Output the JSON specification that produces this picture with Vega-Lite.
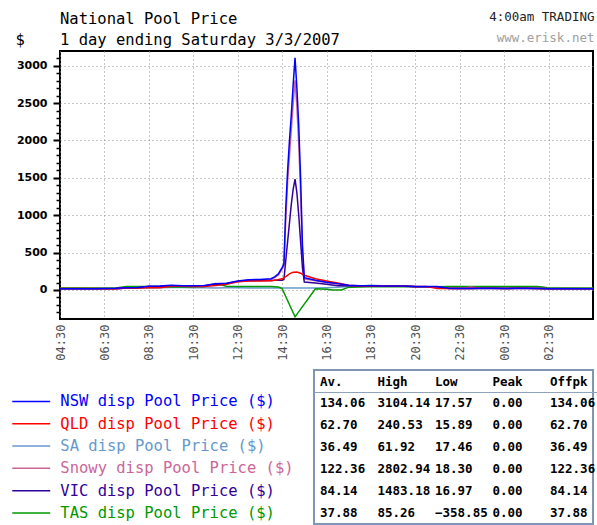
{
"$schema": "https://vega.github.io/schema/vega-lite/v6.json",
"background": "white",
"padding": {"left": 14, "top": 10, "right": 0, "bottom": 0},
"title": {"text": "4:00am TRADING", "subtitle": "www.erisk.net", "anchor": "end", "frame": "bounds", "offset": -34, "dx": -8, "font": "DejaVu Sans Mono", "fontSize": 12.5, "fontWeight": "normal", "color": "#222222", "subtitleFont": "DejaVu Sans Mono", "subtitleFontSize": 12.5, "subtitleColor": "#a0a0a0", "subtitlePadding": 8.5},
"datasets": {
"prices": [
{"t":"2007-03-02T04:30","r":"SA","p":20},{"t":"2007-03-02T05:00","r":"SA","p":20},{"t":"2007-03-02T05:30","r":"SA","p":19},{"t":"2007-03-02T06:00","r":"SA","p":18},{"t":"2007-03-02T06:30","r":"SA","p":17.46},{"t":"2007-03-02T07:00","r":"SA","p":18},{"t":"2007-03-02T07:30","r":"SA","p":22},{"t":"2007-03-02T08:00","r":"SA","p":25},{"t":"2007-03-02T08:30","r":"SA","p":28},{"t":"2007-03-02T09:00","r":"SA","p":30},{"t":"2007-03-02T09:30","r":"SA","p":32},{"t":"2007-03-02T10:00","r":"SA","p":32},{"t":"2007-03-02T10:30","r":"SA","p":30},{"t":"2007-03-02T11:00","r":"SA","p":30},{"t":"2007-03-02T11:30","r":"SA","p":28},{"t":"2007-03-02T12:00","r":"SA","p":30},{"t":"2007-03-02T12:30","r":"SA","p":30},{"t":"2007-03-02T13:00","r":"SA","p":28},{"t":"2007-03-02T13:30","r":"SA","p":28},{"t":"2007-03-02T14:00","r":"SA","p":28},{"t":"2007-03-02T14:30","r":"SA","p":28},{"t":"2007-03-02T15:00","r":"SA","p":28},{"t":"2007-03-02T15:30","r":"SA","p":28},{"t":"2007-03-02T16:00","r":"SA","p":28},{"t":"2007-03-02T16:30","r":"SA","p":30},{"t":"2007-03-02T17:00","r":"SA","p":35},{"t":"2007-03-02T17:30","r":"SA","p":45},{"t":"2007-03-02T18:00","r":"SA","p":55},{"t":"2007-03-02T18:30","r":"SA","p":61.92},{"t":"2007-03-02T19:00","r":"SA","p":58},{"t":"2007-03-02T19:30","r":"SA","p":55},{"t":"2007-03-02T20:00","r":"SA","p":52},{"t":"2007-03-02T20:30","r":"SA","p":45},{"t":"2007-03-02T21:00","r":"SA","p":44},{"t":"2007-03-02T21:30","r":"SA","p":42},{"t":"2007-03-02T22:00","r":"SA","p":40},{"t":"2007-03-02T22:30","r":"SA","p":38},{"t":"2007-03-02T23:00","r":"SA","p":35},{"t":"2007-03-02T23:30","r":"SA","p":35},{"t":"2007-03-03T00:00","r":"SA","p":35},{"t":"2007-03-03T00:30","r":"SA","p":36},{"t":"2007-03-03T01:00","r":"SA","p":38},{"t":"2007-03-03T01:30","r":"SA","p":40},{"t":"2007-03-03T02:00","r":"SA","p":40},{"t":"2007-03-03T02:30","r":"SA","p":30},{"t":"2007-03-03T03:00","r":"SA","p":25},{"t":"2007-03-03T03:30","r":"SA","p":22},{"t":"2007-03-03T04:00","r":"SA","p":20},{"t":"2007-03-03T04:30","r":"SA","p":20},
{"t":"2007-03-02T04:30","r":"TAS","p":28},{"t":"2007-03-02T05:00","r":"TAS","p":28},{"t":"2007-03-02T05:30","r":"TAS","p":28},{"t":"2007-03-02T06:00","r":"TAS","p":28},{"t":"2007-03-02T06:30","r":"TAS","p":28},{"t":"2007-03-02T07:00","r":"TAS","p":28},{"t":"2007-03-02T07:30","r":"TAS","p":45},{"t":"2007-03-02T08:00","r":"TAS","p":45},{"t":"2007-03-02T08:30","r":"TAS","p":45},{"t":"2007-03-02T09:00","r":"TAS","p":42},{"t":"2007-03-02T09:30","r":"TAS","p":40},{"t":"2007-03-02T10:00","r":"TAS","p":40},{"t":"2007-03-02T10:30","r":"TAS","p":42},{"t":"2007-03-02T11:00","r":"TAS","p":45},{"t":"2007-03-02T11:30","r":"TAS","p":85.26},{"t":"2007-03-02T12:00","r":"TAS","p":50},{"t":"2007-03-02T12:30","r":"TAS","p":45},{"t":"2007-03-02T13:00","r":"TAS","p":45},{"t":"2007-03-02T13:30","r":"TAS","p":45},{"t":"2007-03-02T14:00","r":"TAS","p":45},{"t":"2007-03-02T14:20","r":"TAS","p":40},{"t":"2007-03-02T14:30","r":"TAS","p":20},{"t":"2007-03-02T15:05","r":"TAS","p":-358.85},{"t":"2007-03-02T16:00","r":"TAS","p":15},{"t":"2007-03-02T16:30","r":"TAS","p":10},{"t":"2007-03-02T16:45","r":"TAS","p":0},{"t":"2007-03-02T17:10","r":"TAS","p":0},{"t":"2007-03-02T17:30","r":"TAS","p":38},{"t":"2007-03-02T18:00","r":"TAS","p":40},{"t":"2007-03-02T18:30","r":"TAS","p":42},{"t":"2007-03-02T19:00","r":"TAS","p":42},{"t":"2007-03-02T19:30","r":"TAS","p":42},{"t":"2007-03-02T20:00","r":"TAS","p":42},{"t":"2007-03-02T20:30","r":"TAS","p":42},{"t":"2007-03-02T21:00","r":"TAS","p":42},{"t":"2007-03-02T21:30","r":"TAS","p":42},{"t":"2007-03-02T22:00","r":"TAS","p":45},{"t":"2007-03-02T22:30","r":"TAS","p":45},{"t":"2007-03-02T23:00","r":"TAS","p":45},{"t":"2007-03-02T23:30","r":"TAS","p":45},{"t":"2007-03-03T00:00","r":"TAS","p":45},{"t":"2007-03-03T00:30","r":"TAS","p":45},{"t":"2007-03-03T01:00","r":"TAS","p":45},{"t":"2007-03-03T01:30","r":"TAS","p":45},{"t":"2007-03-03T02:00","r":"TAS","p":45},{"t":"2007-03-03T02:30","r":"TAS","p":28},{"t":"2007-03-03T03:00","r":"TAS","p":25},{"t":"2007-03-03T03:30","r":"TAS","p":25},{"t":"2007-03-03T04:00","r":"TAS","p":25},{"t":"2007-03-03T04:30","r":"TAS","p":25},
{"t":"2007-03-02T04:30","r":"Snowy","p":18},{"t":"2007-03-02T05:00","r":"Snowy","p":18},{"t":"2007-03-02T05:30","r":"Snowy","p":18},{"t":"2007-03-02T06:00","r":"Snowy","p":18},{"t":"2007-03-02T06:30","r":"Snowy","p":19},{"t":"2007-03-02T07:00","r":"Snowy","p":20},{"t":"2007-03-02T07:30","r":"Snowy","p":28},{"t":"2007-03-02T08:00","r":"Snowy","p":30},{"t":"2007-03-02T08:30","r":"Snowy","p":47},{"t":"2007-03-02T09:00","r":"Snowy","p":50},{"t":"2007-03-02T09:30","r":"Snowy","p":58},{"t":"2007-03-02T10:00","r":"Snowy","p":55},{"t":"2007-03-02T10:30","r":"Snowy","p":52},{"t":"2007-03-02T11:00","r":"Snowy","p":57},{"t":"2007-03-02T11:30","r":"Snowy","p":80},{"t":"2007-03-02T12:00","r":"Snowy","p":86},{"t":"2007-03-02T12:30","r":"Snowy","p":115},{"t":"2007-03-02T13:00","r":"Snowy","p":132},{"t":"2007-03-02T13:30","r":"Snowy","p":135},{"t":"2007-03-02T14:00","r":"Snowy","p":145},{"t":"2007-03-02T14:10","r":"Snowy","p":165},{"t":"2007-03-02T14:20","r":"Snowy","p":200},{"t":"2007-03-02T14:30","r":"Snowy","p":280},{"t":"2007-03-02T14:35","r":"Snowy","p":330},{"t":"2007-03-02T14:40","r":"Snowy","p":950},{"t":"2007-03-02T14:45","r":"Snowy","p":1450},{"t":"2007-03-02T14:50","r":"Snowy","p":1800},{"t":"2007-03-02T14:55","r":"Snowy","p":2150},{"t":"2007-03-02T15:00","r":"Snowy","p":2500},{"t":"2007-03-02T15:05","r":"Snowy","p":2802.94},{"t":"2007-03-02T15:10","r":"Snowy","p":2450},{"t":"2007-03-02T15:15","r":"Snowy","p":1950},{"t":"2007-03-02T15:20","r":"Snowy","p":1300},{"t":"2007-03-02T15:25","r":"Snowy","p":500},{"t":"2007-03-02T15:30","r":"Snowy","p":150},{"t":"2007-03-02T16:00","r":"Snowy","p":125},{"t":"2007-03-02T16:30","r":"Snowy","p":100},{"t":"2007-03-02T17:00","r":"Snowy","p":80},{"t":"2007-03-02T17:30","r":"Snowy","p":60},{"t":"2007-03-02T18:00","r":"Snowy","p":52},{"t":"2007-03-02T18:30","r":"Snowy","p":52},{"t":"2007-03-02T19:00","r":"Snowy","p":50},{"t":"2007-03-02T19:30","r":"Snowy","p":50},{"t":"2007-03-02T20:00","r":"Snowy","p":50},{"t":"2007-03-02T20:30","r":"Snowy","p":43},{"t":"2007-03-02T21:00","r":"Snowy","p":43},{"t":"2007-03-02T21:30","r":"Snowy","p":43},{"t":"2007-03-02T22:00","r":"Snowy","p":21},{"t":"2007-03-02T22:30","r":"Snowy","p":20},{"t":"2007-03-02T23:00","r":"Snowy","p":40},{"t":"2007-03-02T23:30","r":"Snowy","p":21},{"t":"2007-03-03T00:00","r":"Snowy","p":21},{"t":"2007-03-03T00:30","r":"Snowy","p":20},{"t":"2007-03-03T01:00","r":"Snowy","p":21},{"t":"2007-03-03T01:30","r":"Snowy","p":21},{"t":"2007-03-03T02:00","r":"Snowy","p":20},{"t":"2007-03-03T02:30","r":"Snowy","p":18.3},{"t":"2007-03-03T03:00","r":"Snowy","p":18.3},{"t":"2007-03-03T03:30","r":"Snowy","p":18.3},{"t":"2007-03-03T04:00","r":"Snowy","p":18.3},{"t":"2007-03-03T04:30","r":"Snowy","p":18.3},
{"t":"2007-03-02T04:30","r":"VIC","p":17},{"t":"2007-03-02T05:00","r":"VIC","p":17},{"t":"2007-03-02T05:30","r":"VIC","p":17},{"t":"2007-03-02T06:00","r":"VIC","p":17},{"t":"2007-03-02T06:30","r":"VIC","p":16.97},{"t":"2007-03-02T07:00","r":"VIC","p":18},{"t":"2007-03-02T07:30","r":"VIC","p":25},{"t":"2007-03-02T08:00","r":"VIC","p":28},{"t":"2007-03-02T08:30","r":"VIC","p":45},{"t":"2007-03-02T09:00","r":"VIC","p":48},{"t":"2007-03-02T09:30","r":"VIC","p":55},{"t":"2007-03-02T10:00","r":"VIC","p":52},{"t":"2007-03-02T10:30","r":"VIC","p":50},{"t":"2007-03-02T11:00","r":"VIC","p":55},{"t":"2007-03-02T11:30","r":"VIC","p":75},{"t":"2007-03-02T12:00","r":"VIC","p":82},{"t":"2007-03-02T12:30","r":"VIC","p":115},{"t":"2007-03-02T13:00","r":"VIC","p":125},{"t":"2007-03-02T13:30","r":"VIC","p":128},{"t":"2007-03-02T14:00","r":"VIC","p":128},{"t":"2007-03-02T14:10","r":"VIC","p":130},{"t":"2007-03-02T14:20","r":"VIC","p":130},{"t":"2007-03-02T14:30","r":"VIC","p":130},{"t":"2007-03-02T14:35","r":"VIC","p":140},{"t":"2007-03-02T14:40","r":"VIC","p":400},{"t":"2007-03-02T14:45","r":"VIC","p":650},{"t":"2007-03-02T14:50","r":"VIC","p":900},{"t":"2007-03-02T14:55","r":"VIC","p":1150},{"t":"2007-03-02T15:00","r":"VIC","p":1350},{"t":"2007-03-02T15:05","r":"VIC","p":1483.18},{"t":"2007-03-02T15:10","r":"VIC","p":1300},{"t":"2007-03-02T15:15","r":"VIC","p":1000},{"t":"2007-03-02T15:20","r":"VIC","p":650},{"t":"2007-03-02T15:25","r":"VIC","p":300},{"t":"2007-03-02T15:30","r":"VIC","p":107},{"t":"2007-03-02T16:00","r":"VIC","p":94},{"t":"2007-03-02T16:30","r":"VIC","p":76},{"t":"2007-03-02T17:00","r":"VIC","p":58},{"t":"2007-03-02T17:30","r":"VIC","p":55},{"t":"2007-03-02T18:00","r":"VIC","p":50},{"t":"2007-03-02T18:30","r":"VIC","p":50},{"t":"2007-03-02T19:00","r":"VIC","p":50},{"t":"2007-03-02T19:30","r":"VIC","p":50},{"t":"2007-03-02T20:00","r":"VIC","p":50},{"t":"2007-03-02T20:30","r":"VIC","p":43},{"t":"2007-03-02T21:00","r":"VIC","p":43},{"t":"2007-03-02T21:30","r":"VIC","p":42},{"t":"2007-03-02T22:00","r":"VIC","p":21},{"t":"2007-03-02T22:30","r":"VIC","p":20},{"t":"2007-03-02T23:00","r":"VIC","p":20},{"t":"2007-03-02T23:30","r":"VIC","p":21},{"t":"2007-03-03T00:00","r":"VIC","p":21},{"t":"2007-03-03T00:30","r":"VIC","p":20},{"t":"2007-03-03T01:00","r":"VIC","p":21},{"t":"2007-03-03T01:30","r":"VIC","p":21},{"t":"2007-03-03T02:00","r":"VIC","p":20},{"t":"2007-03-03T02:30","r":"VIC","p":17},{"t":"2007-03-03T03:00","r":"VIC","p":17},{"t":"2007-03-03T03:30","r":"VIC","p":17},{"t":"2007-03-03T04:00","r":"VIC","p":17},{"t":"2007-03-03T04:30","r":"VIC","p":17},
{"t":"2007-03-02T04:30","r":"QLD","p":20},{"t":"2007-03-02T05:00","r":"QLD","p":20},{"t":"2007-03-02T05:30","r":"QLD","p":20},{"t":"2007-03-02T06:00","r":"QLD","p":20},{"t":"2007-03-02T06:30","r":"QLD","p":16},{"t":"2007-03-02T07:00","r":"QLD","p":15.89},{"t":"2007-03-02T07:30","r":"QLD","p":25},{"t":"2007-03-02T08:00","r":"QLD","p":25},{"t":"2007-03-02T08:30","r":"QLD","p":30},{"t":"2007-03-02T09:00","r":"QLD","p":30},{"t":"2007-03-02T09:30","r":"QLD","p":50},{"t":"2007-03-02T10:00","r":"QLD","p":50},{"t":"2007-03-02T10:30","r":"QLD","p":45},{"t":"2007-03-02T11:00","r":"QLD","p":45},{"t":"2007-03-02T11:30","r":"QLD","p":60},{"t":"2007-03-02T12:00","r":"QLD","p":78},{"t":"2007-03-02T12:30","r":"QLD","p":110},{"t":"2007-03-02T13:00","r":"QLD","p":120},{"t":"2007-03-02T13:30","r":"QLD","p":120},{"t":"2007-03-02T14:00","r":"QLD","p":122},{"t":"2007-03-02T14:15","r":"QLD","p":135},{"t":"2007-03-02T14:30","r":"QLD","p":150},{"t":"2007-03-02T14:40","r":"QLD","p":180},{"t":"2007-03-02T14:50","r":"QLD","p":215},{"t":"2007-03-02T15:00","r":"QLD","p":238},{"t":"2007-03-02T15:10","r":"QLD","p":240.53},{"t":"2007-03-02T15:20","r":"QLD","p":225},{"t":"2007-03-02T15:30","r":"QLD","p":196},{"t":"2007-03-02T16:00","r":"QLD","p":150},{"t":"2007-03-02T16:30","r":"QLD","p":120},{"t":"2007-03-02T17:00","r":"QLD","p":94},{"t":"2007-03-02T17:30","r":"QLD","p":63},{"t":"2007-03-02T18:00","r":"QLD","p":52},{"t":"2007-03-02T18:30","r":"QLD","p":52},{"t":"2007-03-02T19:00","r":"QLD","p":53},{"t":"2007-03-02T19:30","r":"QLD","p":53},{"t":"2007-03-02T20:00","r":"QLD","p":53},{"t":"2007-03-02T20:30","r":"QLD","p":45},{"t":"2007-03-02T21:00","r":"QLD","p":45},{"t":"2007-03-02T21:30","r":"QLD","p":20},{"t":"2007-03-02T22:00","r":"QLD","p":22},{"t":"2007-03-02T22:30","r":"QLD","p":20},{"t":"2007-03-02T23:00","r":"QLD","p":20},{"t":"2007-03-02T23:30","r":"QLD","p":22},{"t":"2007-03-03T00:00","r":"QLD","p":22},{"t":"2007-03-03T00:30","r":"QLD","p":20},{"t":"2007-03-03T01:00","r":"QLD","p":22},{"t":"2007-03-03T01:30","r":"QLD","p":22},{"t":"2007-03-03T02:00","r":"QLD","p":20},{"t":"2007-03-03T02:30","r":"QLD","p":16},{"t":"2007-03-03T03:00","r":"QLD","p":16},{"t":"2007-03-03T03:30","r":"QLD","p":17},{"t":"2007-03-03T04:00","r":"QLD","p":16},{"t":"2007-03-03T04:30","r":"QLD","p":16},
{"t":"2007-03-02T04:30","r":"NSW","p":18},{"t":"2007-03-02T05:00","r":"NSW","p":18},{"t":"2007-03-02T05:30","r":"NSW","p":18},{"t":"2007-03-02T06:00","r":"NSW","p":18},{"t":"2007-03-02T06:30","r":"NSW","p":20},{"t":"2007-03-02T07:00","r":"NSW","p":22},{"t":"2007-03-02T07:30","r":"NSW","p":30},{"t":"2007-03-02T08:00","r":"NSW","p":32},{"t":"2007-03-02T08:30","r":"NSW","p":50},{"t":"2007-03-02T09:00","r":"NSW","p":52},{"t":"2007-03-02T09:30","r":"NSW","p":63},{"t":"2007-03-02T10:00","r":"NSW","p":58},{"t":"2007-03-02T10:30","r":"NSW","p":55},{"t":"2007-03-02T11:00","r":"NSW","p":60},{"t":"2007-03-02T11:30","r":"NSW","p":85},{"t":"2007-03-02T12:00","r":"NSW","p":90},{"t":"2007-03-02T12:30","r":"NSW","p":120},{"t":"2007-03-02T13:00","r":"NSW","p":138},{"t":"2007-03-02T13:30","r":"NSW","p":140},{"t":"2007-03-02T14:00","r":"NSW","p":150},{"t":"2007-03-02T14:10","r":"NSW","p":175},{"t":"2007-03-02T14:20","r":"NSW","p":215},{"t":"2007-03-02T14:30","r":"NSW","p":300},{"t":"2007-03-02T14:35","r":"NSW","p":350},{"t":"2007-03-02T14:40","r":"NSW","p":1100},{"t":"2007-03-02T14:45","r":"NSW","p":1600},{"t":"2007-03-02T14:50","r":"NSW","p":2000},{"t":"2007-03-02T14:55","r":"NSW","p":2350},{"t":"2007-03-02T15:00","r":"NSW","p":2750},{"t":"2007-03-02T15:05","r":"NSW","p":3104.14},{"t":"2007-03-02T15:10","r":"NSW","p":2700},{"t":"2007-03-02T15:15","r":"NSW","p":2200},{"t":"2007-03-02T15:20","r":"NSW","p":1500},{"t":"2007-03-02T15:25","r":"NSW","p":600},{"t":"2007-03-02T15:30","r":"NSW","p":165},{"t":"2007-03-02T16:00","r":"NSW","p":130},{"t":"2007-03-02T16:30","r":"NSW","p":105},{"t":"2007-03-02T17:00","r":"NSW","p":85},{"t":"2007-03-02T17:30","r":"NSW","p":62},{"t":"2007-03-02T18:00","r":"NSW","p":55},{"t":"2007-03-02T18:30","r":"NSW","p":55},{"t":"2007-03-02T19:00","r":"NSW","p":53},{"t":"2007-03-02T19:30","r":"NSW","p":53},{"t":"2007-03-02T20:00","r":"NSW","p":53},{"t":"2007-03-02T20:30","r":"NSW","p":45},{"t":"2007-03-02T21:00","r":"NSW","p":45},{"t":"2007-03-02T21:30","r":"NSW","p":45},{"t":"2007-03-02T22:00","r":"NSW","p":22},{"t":"2007-03-02T22:30","r":"NSW","p":20},{"t":"2007-03-02T23:00","r":"NSW","p":20},{"t":"2007-03-02T23:30","r":"NSW","p":22},{"t":"2007-03-03T00:00","r":"NSW","p":22},{"t":"2007-03-03T00:30","r":"NSW","p":20},{"t":"2007-03-03T01:00","r":"NSW","p":22},{"t":"2007-03-03T01:30","r":"NSW","p":22},{"t":"2007-03-03T02:00","r":"NSW","p":20},{"t":"2007-03-03T02:30","r":"NSW","p":17.57},{"t":"2007-03-03T03:00","r":"NSW","p":18},{"t":"2007-03-03T03:30","r":"NSW","p":18},{"t":"2007-03-03T04:00","r":"NSW","p":18},{"t":"2007-03-03T04:30","r":"NSW","p":18}
],
"stats": [
{"r":"NSW","c":"Av.","v":134.06},{"r":"NSW","c":"High","v":3104.14},{"r":"NSW","c":"Low","v":17.57},{"r":"NSW","c":"Peak","v":0},{"r":"NSW","c":"Offpk","v":134.06},
{"r":"QLD","c":"Av.","v":62.70},{"r":"QLD","c":"High","v":240.53},{"r":"QLD","c":"Low","v":15.89},{"r":"QLD","c":"Peak","v":0},{"r":"QLD","c":"Offpk","v":62.70},
{"r":"SA","c":"Av.","v":36.49},{"r":"SA","c":"High","v":61.92},{"r":"SA","c":"Low","v":17.46},{"r":"SA","c":"Peak","v":0},{"r":"SA","c":"Offpk","v":36.49},
{"r":"Snowy","c":"Av.","v":122.36},{"r":"Snowy","c":"High","v":2802.94},{"r":"Snowy","c":"Low","v":18.30},{"r":"Snowy","c":"Peak","v":0},{"r":"Snowy","c":"Offpk","v":122.36},
{"r":"VIC","c":"Av.","v":84.14},{"r":"VIC","c":"High","v":1483.18},{"r":"VIC","c":"Low","v":16.97},{"r":"VIC","c":"Peak","v":0},{"r":"VIC","c":"Offpk","v":84.14},
{"r":"TAS","c":"Av.","v":37.88},{"r":"TAS","c":"High","v":85.26},{"r":"TAS","c":"Low","v":-358.85},{"r":"TAS","c":"Peak","v":0},{"r":"TAS","c":"Offpk","v":37.88}
]
},
"bounds": "flush",
"spacing": 51,
"vconcat": [
{
"width": 533,
"height": 268,
"view": {"stroke": "black", "strokeWidth": 2},
"title": {"text": "National Pool Price", "subtitle": "1 day ending Saturday 3/3/2007", "anchor": "start", "frame": "group", "offset": -16, "font": "DejaVu Sans Mono", "fontSize": 15.5, "fontWeight": "normal", "color": "black", "subtitleFont": "DejaVu Sans Mono", "subtitleFontSize": 15.5, "subtitleColor": "black", "subtitlePadding": 5.5},
"data": {"name": "prices"},
"mark": {"type": "line", "strokeWidth": 1.5, "clip": true},
"encoding": {
"x": {"field": "t", "type": "temporal",
"scale": {"domain": [{"year": 2007, "month": 3, "date": 2, "hours": 4, "minutes": 30}, {"year": 2007, "month": 3, "date": 3, "hours": 4, "minutes": 30}], "nice": false},
"axis": {"values": [
{"year": 2007, "month": 3, "date": 2, "hours": 4, "minutes": 30},
{"year": 2007, "month": 3, "date": 2, "hours": 6, "minutes": 30},
{"year": 2007, "month": 3, "date": 2, "hours": 8, "minutes": 30},
{"year": 2007, "month": 3, "date": 2, "hours": 10, "minutes": 30},
{"year": 2007, "month": 3, "date": 2, "hours": 12, "minutes": 30},
{"year": 2007, "month": 3, "date": 2, "hours": 14, "minutes": 30},
{"year": 2007, "month": 3, "date": 2, "hours": 16, "minutes": 30},
{"year": 2007, "month": 3, "date": 2, "hours": 18, "minutes": 30},
{"year": 2007, "month": 3, "date": 2, "hours": 20, "minutes": 30},
{"year": 2007, "month": 3, "date": 2, "hours": 22, "minutes": 30},
{"year": 2007, "month": 3, "date": 3, "hours": 0, "minutes": 30},
{"year": 2007, "month": 3, "date": 3, "hours": 2, "minutes": 30}],
"format": "%H:%M", "labelAngle": 270, "labelFont": "DejaVu Sans Mono", "labelFontSize": 12, "labelColor": "#505050", "labelPadding": 5, "labelOverlap": false, "labelFlush": false,
"ticks": false, "domain": false, "grid": true, "gridColor": "#8c8c8c", "gridDash": [1, 3], "gridWidth": 1, "title": null}},
"y": {"field": "p", "type": "quantitative",
"scale": {"domain": [-388, 3196], "nice": false, "zero": false},
"axis": {"values": [-300, -200, -100, 0, 100, 200, 300, 400, 500, 600, 700, 800, 900, 1000, 1100, 1200, 1300, 1400, 1500, 1600, 1700, 1800, 1900, 2000, 2100, 2200, 2300, 2400, 2500, 2600, 2700, 2800, 2900, 3000, 3100],
"format": "d",
"labelExpr": "datum.value % 500 === 0 ? datum.label : ''",
"tickSize": {"condition": {"test": "datum.value % 500 === 0", "value": 7}, "value": 4},
"tickWidth": {"condition": {"test": "datum.value % 500 === 0", "value": 2}, "value": 1.5},
"tickColor": "black",
"grid": true, "gridColor": "#8c8c8c", "gridDash": [1, 3], "gridWidth": 1,
"gridOpacity": {"condition": {"test": "datum.value % 500 === 0", "value": 1}, "value": 0},
"domain": false, "labelOverlap": false, "labelFlush": false,
"labelFont": "DejaVu Sans", "labelFontWeight": "bold", "labelFontSize": 11, "labelColor": "black", "labelPadding": 6,
"title": "$", "titleAngle": 0, "titleX": -45, "titleY": -7, "titleAlign": "left", "titleBaseline": "alphabetic", "titleFont": "DejaVu Sans Mono", "titleFontSize": 15.5, "titleFontWeight": "normal", "titleColor": "black"}},
"color": {"field": "r", "type": "nominal",
"scale": {"domain": ["NSW", "QLD", "SA", "Snowy", "VIC", "TAS"], "range": ["#0000ff", "#ff0000", "#6699cc", "#cc6699", "#330099", "#009900"]},
"legend": {"orient": "none", "direction": "vertical", "legendX": -36.5, "legendY": 342.7, "title": null, "padding": 0,
"symbolType": "M-4,0H4", "symbolSize": 90, "symbolStrokeWidth": 1.5, "rowPadding": 5.3, "labelOffset": 21.3,
"labelFont": "DejaVu Sans Mono", "labelFontSize": 15.5, "labelLimit": 0, "labelColor": "black",
"labelExpr": "datum.label + ' disp Pool Price ($)'",
"encoding": {"labels": {"fill": {"condition": [
{"test": "datum.value === 'NSW'", "value": "#0000ff"},
{"test": "datum.value === 'QLD'", "value": "#ff0000"},
{"test": "datum.value === 'SA'", "value": "#6699cc"},
{"test": "datum.value === 'Snowy'", "value": "#cc6699"},
{"test": "datum.value === 'VIC'", "value": "#330099"},
{"test": "datum.value === 'TAS'", "value": "#009900"}], "value": "black"}}}}}
}
},
{
"bounds": "flush",
"spacing": 10,
"hconcat": [
{
"width": 244,
"height": 154,
"view": {"stroke": null},
"data": {"values": []},
"mark": "point"
},
{
"width": 279,
"height": 154,
"view": {"stroke": "#7f96b4", "strokeWidth": 2},
"data": {"name": "stats"},
"mark": {"type": "text", "align": "left", "baseline": "middle", "dx": 6, "font": "DejaVu Sans Mono", "fontSize": 12.5, "fontWeight": "bold", "color": "black"},
"encoding": {
"x": {"field": "c", "type": "nominal", "bandPosition": 0,
"scale": {"type": "band", "domain": ["Av.", "High", "Low", "Peak", "Offpk"], "range": [0, 287.5], "paddingInner": 0, "paddingOuter": 0},
"axis": {"orient": "top", "offset": -22, "labelAlign": "left", "labelOffset": -22.75, "labelPadding": 4, "labelAngle": 0, "ticks": false, "domain": true, "domainColor": "#8fa3bd", "domainWidth": 1, "labelFont": "DejaVu Sans Mono", "labelFontSize": 12.5, "labelFontWeight": "bold", "labelColor": "black", "title": null, "grid": false}},
"y": {"field": "r", "type": "nominal",
"scale": {"type": "band", "domain": ["hdr", "NSW", "QLD", "SA", "Snowy", "VIC", "TAS"], "paddingInner": 0, "paddingOuter": 0},
"axis": null},
"text": {"field": "v", "type": "quantitative", "format": ".2f"}
}
}
]
}
]
}
